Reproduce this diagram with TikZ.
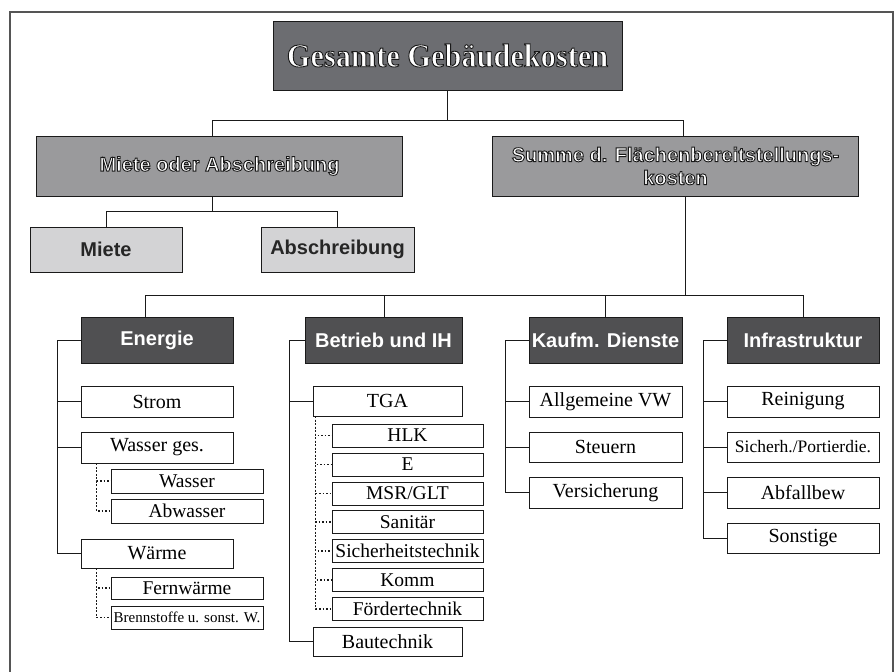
\documentclass[tikz,border=0pt]{standalone}
\usepackage{fontspec}
\setmainfont{Liberation Serif}
\newfontfamily\headfont{Liberation Sans}
\newfontfamily\titlefont[FakeStretch=0.92]{Liberation Serif}
\usepackage{tikz}
\usepackage{xcolor}
\definecolor{kTitle}{HTML}{6C6D71}
\definecolor{kMid}{HTML}{9A9A9C}
\definecolor{kLight}{HTML}{D3D3D5}
\definecolor{kDark}{HTML}{505052}
\definecolor{kLine}{HTML}{1A1A1A}
\definecolor{kFrame}{HTML}{555555}
% white letters with a dark rim (text render mode 2)
\newcommand{\outl}[1]{\special{pdf:literal direct 2 Tr 0.9 w 0.1 0.1 0.1 RG}#1\special{pdf:literal direct 0 Tr}}

\begin{document}
\begin{tikzpicture}[x=1pt, y=-1pt,
  box/.style={draw=kLine, line width=0.9pt, inner sep=0pt, align=center},
  titlebox/.style={box, fill=kTitle, text=white, minimum width=349, minimum height=69,
                   font=\titlefont\bfseries\fontsize{33}{36}\selectfont},
  headbox/.style={box, fill=kMid, text=white, minimum width=366, minimum height=60,
                  font=\headfont\bfseries\fontsize{20}{23}\selectfont},
  lightbox/.style={box, fill=kLight, text=black!85, minimum width=152, minimum height=45,
                   font=\headfont\bfseries\fontsize{20}{23}\selectfont},
  groupbox/.style={box, fill=kDark, text=white, minimum width=152, minimum height=46,
                   font=\headfont\bfseries\fontsize{20}{23}\selectfont},
  itembox/.style={box, fill=white, line width=0.8pt, minimum width=152, minimum height=31,
                  font=\fontsize{20}{23}\selectfont},
  subbox/.style={box, fill=white, line width=0.8pt, minimum width=152, minimum height=23,
                 font=\fontsize{19.5}{22}\selectfont},
  link/.style={draw=kLine, line width=0.9pt},
  dotlink/.style={draw=kLine, line width=1.6pt, dash pattern=on 1.6pt off 1.9pt}]
  \useasboundingbox (0,0) rectangle (895,672);
  \draw[kFrame, line width=2pt] (10,690) -- (10,12) -- (893,12) -- (893,690);

  % top levels
  \node[titlebox] (title) at (447.5,55.5) {\outl{Gesamte Gebäudekosten}};
  \node[headbox] (moa) at (219.5,166) {\outl{Miete oder Abschreibung}};
  \node[headbox] (summe) at (675.5,166) {\outl{Summe d. Flächenbereitstellungs-}\\\outl{kosten}};
  \node[lightbox] (miete) at (106,249.5) {Miete};
  \node[lightbox, minimum width=153] (abschr) at (337.5,249.5) {Abschreibung};

  \node[groupbox] (energie) at (157,340) {Energie};
  \node[groupbox, minimum width=157] (betrieb) at (383.5,340) {Betrieb und IH};
  \node[groupbox, minimum width=153] (kaufm) at (605.5,340) {Kaufm. Dienste};
  \node[groupbox] (infra) at (803,340) {Infrastruktur};

  % Energie
  \node[itembox] (strom) at (157,401.5) {Strom};
  \node[itembox] (wges) at (157,447.5) {Wasser ges.};
  \node[subbox, minimum height=24] (wasser) at (187,481) {Wasser};
  \node[subbox, minimum height=24] (abwasser) at (187,511) {Abwasser};
  \node[itembox, minimum height=29] (waerme) at (157,553.5) {Wärme};
  \node[subbox, minimum height=22] (fernw) at (187,588) {Fernwärme};
  \node[subbox, font=\fontsize{15}{17}\selectfont] (brenn) at (187,617.5) {Brennstoffe u. sonst. W.};

  % Betrieb und IH
  \node[itembox, minimum width=149, minimum height=30] (tga) at (387.5,401) {TGA};
  \node[subbox, minimum width=151] (hlk) at (407.5,435.5) {HLK};
  \node[subbox, minimum width=151] (elek) at (407.5,464.5) {E};
  \node[subbox, minimum width=151] (msr) at (407.5,493.5) {MSR/GLT};
  \node[subbox, minimum width=151] (sanitaer) at (407.5,522) {Sanitär};
  \node[subbox, minimum width=151] (sicher) at (407.5,551) {Sicherheitstechnik};
  \node[subbox, minimum width=151] (komm) at (407.5,580) {Komm};
  \node[subbox, minimum width=151] (foerder) at (407.5,609) {Fördertechnik};
  \node[itembox, minimum width=149, minimum height=29] (bau) at (387.5,641.5) {Bautechnik};

  % Kaufm. Dienste
  \node[itembox, minimum width=153] (allg) at (605.5,401.5) {Allgemeine VW};
  \node[itembox, minimum width=153, minimum height=30] (steuern) at (605.5,447) {Steuern};
  \node[itembox, minimum width=153] (versich) at (605.5,492.5) {Versicherung};

  % Infrastruktur
  \node[itembox] (reinigung) at (803,401.5) {Reinigung};
  \node[itembox, minimum height=30, font=\fontsize{17.5}{20}\selectfont] (sicherh) at (803,447) {Sicherh./Portierdie.};
  \node[itembox] (abfall) at (803,492.5) {Abfallbew};
  \node[itembox, minimum height=30] (sonstige) at (803,538) {Sonstige};

  % connectors
  \coordinate (bus1) at (447.5,120);
  \coordinate (bus2) at (212.5,211);
  \coordinate (bus3) at (685,295);
  \draw[link] (title.south) -- (bus1);
  \draw[link] (bus1) -| ([xshift=-7]moa.north);
  \draw[link] (bus1) -| ([xshift=8]summe.north);
  \draw[link] ([xshift=-7]moa.south) -- (bus2);
  \foreach \n in {miete,abschr}
    \draw[link] (bus2) -| (\n.north);
  \draw[link] ([xshift=9.5]summe.south) -- (bus3);
  \foreach \n/\s in {energie/-12,betrieb/1,kaufm/0,infra/0}
    \draw[link] (bus3) -| ([xshift=\s]\n.north);

  \foreach \n in {strom,wges,waerme}
    \draw[link] (energie.west) -- ++(-23,0) |- (\n.west);
  \foreach \n in {tga,bau}
    \draw[link] (betrieb.west) -- ++(-15,0) |- (\n.west);
  \foreach \n in {allg,steuern,versich}
    \draw[link] (kaufm.west) -- ++(-23,0) |- (\n.west);
  \foreach \n in {reinigung,sicherh,abfall,sonstige}
    \draw[link] (infra.west) -- ++(-23,0) |- (\n.west);

  \foreach \n in {wasser,abwasser}
    \draw[dotlink] ([xshift=16]wges.south west) |- (\n.west);
  \foreach \n in {fernw,brenn}
    \draw[dotlink] ([xshift=16]waerme.south west) |- (\n.west);
  \foreach \n in {hlk,elek,msr,sanitaer,sicher,komm,foerder}
    \draw[dotlink] ([xshift=3]tga.south west) |- (\n.west);
\end{tikzpicture}
\end{document}
